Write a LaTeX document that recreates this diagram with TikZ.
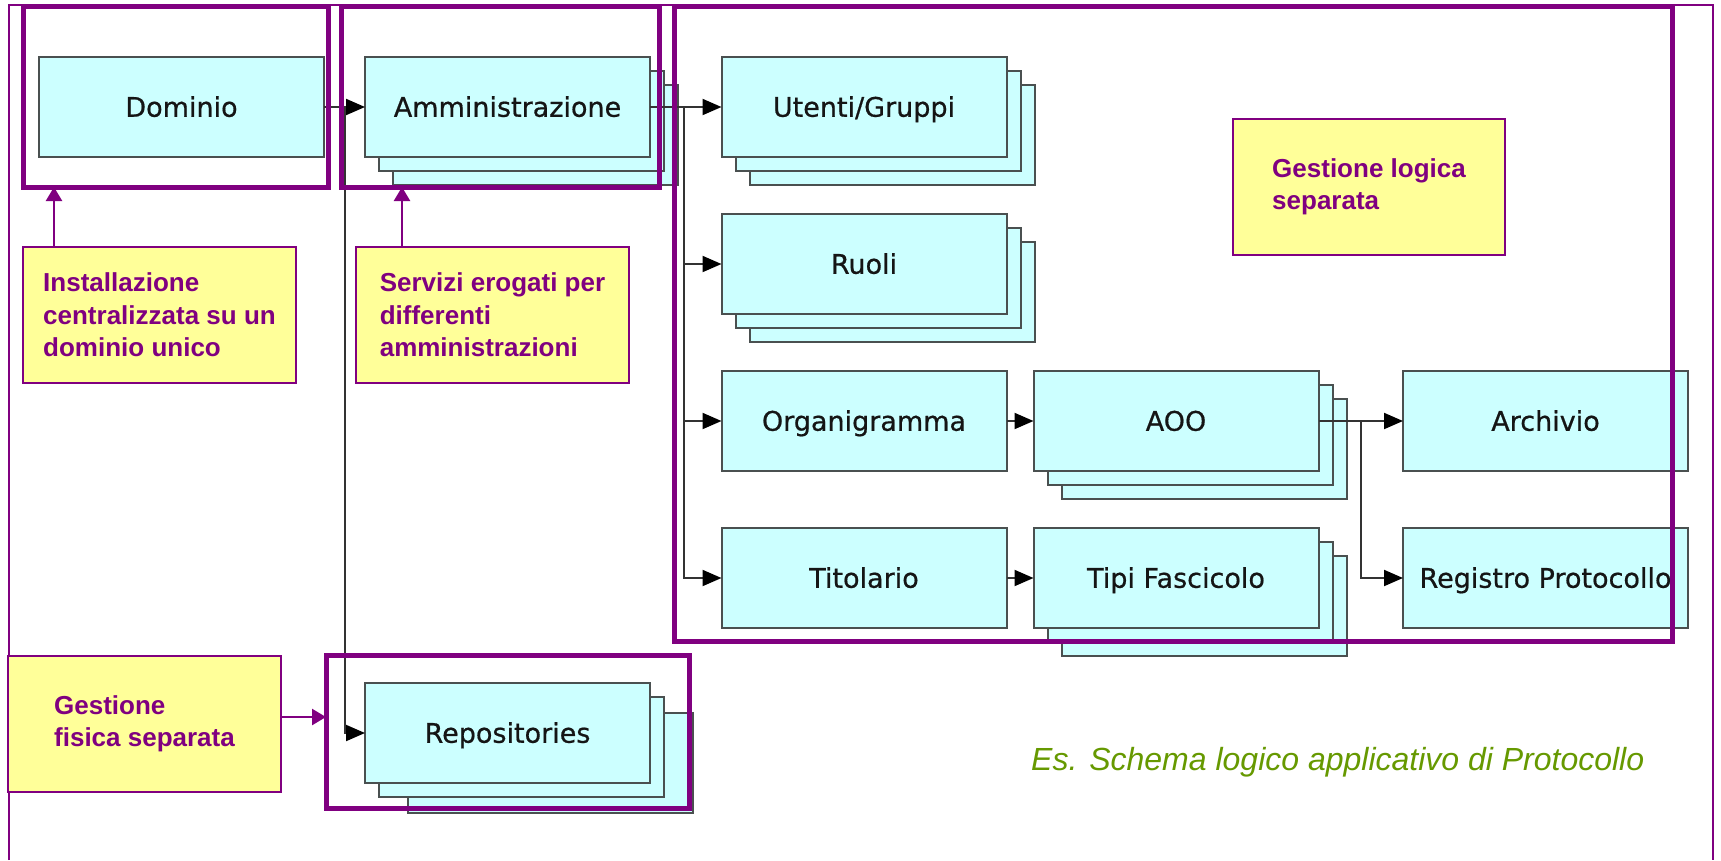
\documentclass[tikz,border=0pt]{standalone}
\usepackage{fontspec}
\setmainfont{Liberation Sans}
\newfontfamily\dvs[FakeBold=0.6]{DejaVu Sans}
\usetikzlibrary{arrows.meta}
\definecolor{pur}{HTML}{800080}
\definecolor{cyanfill}{HTML}{CCFFFF}
\definecolor{boxgray}{HTML}{4A5050}
\definecolor{yelfill}{HTML}{FFFF99}
\definecolor{conngray}{HTML}{333333}
\definecolor{txtdark}{HTML}{151515}
\definecolor{greentxt}{HTML}{669900}
\tikzset{
  cyanbox/.style={draw=boxgray, line width=2pt, fill=cyanfill, minimum width=285pt, minimum height=100pt, inner sep=0pt, outer sep=0pt, text=txtdark, text height=19.5pt, text depth=0pt, font=\dvs\fontsize{27}{31}\selectfont},
  yelbox/.style={draw=pur, line width=2pt, fill=yelfill, minimum width=273pt, minimum height=136pt, inner sep=0pt, outer sep=0pt, align=left, text=pur, font=\bfseries\fontsize{26}{32.5}\selectfont},
  frame/.style={draw=pur, line width=5pt, inner sep=0pt, outer sep=0pt},
  conn/.style={draw=conngray, line width=2pt, -{Triangle[length=19pt,width=16pt,color=black]}},
  connline/.style={draw=conngray, line width=2pt},
  parrow/.style={draw=pur, line width=2.5pt, -{Triangle[length=14pt,width=16pt]}}
}
\newcommand\boxlayers[5]{%
  \node[cyanbox] (#1-3) at (#2+#4,#3+#5) {};
  \node[cyanbox] (#1-2) at (#2+14,#3+14) {};
}
\begin{document}
\begin{tikzpicture}[x=1pt,y=-1pt]
\useasboundingbox (0,0) rectangle (1721,860);
\fill[white] (0,0) rectangle (1721,860);
% outer thin frame
\draw[pur, line width=2pt] (9,860) -- (9,5) -- (1713,5) -- (1713,860);

% cyan boxes
\node[cyanbox] (dom) at (181.5,107) {Dominio};
\boxlayers{amm}{507.5}{107}{28}{28}
\node[cyanbox] (amm) at (507.5,107) {Amministrazione};
\boxlayers{ute}{864}{107}{28}{28}
\node[cyanbox] (ute) at (864,107) {Utenti/Gruppi};
\boxlayers{ruo}{864}{264}{28}{28}
\node[cyanbox] (ruo) at (864,264) {Ruoli};
\node[cyanbox] (org) at (864,421) {Organigramma};
\boxlayers{aoo}{1176}{421}{28}{28}
\node[cyanbox] (aoo) at (1176,421) {AOO};
\node[cyanbox] (arc) at (1545.5,421) {Archivio};
\node[cyanbox] (tit) at (864,578) {Titolario};
\boxlayers{tip}{1176}{578}{28}{28}
\node[cyanbox] (tip) at (1176,578) {Tipi Fascicolo};
\node[cyanbox] (reg) at (1545.5,578) {Registro Protocollo};
\boxlayers{rep}{507.5}{733}{43}{30}
\node[cyanbox] (rep) at (507.5,733) {Repositories};

% connectors
\coordinate (j1) at (345,107);
\coordinate (j2) at (684,107);
\coordinate (j3) at (1361,421);
\draw[connline] (dom.east) -- (j1);
\draw[conn] (j1) -- (amm.west);
\draw[conn] (j1) |- (rep.west);
\draw[connline] (amm.east) -- (j2);
\draw[conn] (j2) -- (ute.west);
\draw[conn] (j2) |- (ruo.west);
\draw[conn] (j2) |- (org.west);
\draw[conn] (j2) |- (tit.west);
\draw[conn] (org.east) -- (aoo.west);
\draw[conn] (tit.east) -- (tip.west);
\draw[connline] (aoo.east) -- (j3);
\draw[conn] (j3) -- (arc.west);
\draw[conn] (j3) |- (reg.west);

% purple frames
\node[frame, minimum width=305pt, minimum height=181pt] (f1) at (175.5,96.5) {};
\node[frame, minimum width=318pt, minimum height=181pt] (f2) at (500,96.5) {};
\node[frame, minimum width=998pt, minimum height=635pt] (f3) at (1173,323.5) {};
\node[frame, minimum width=363pt, minimum height=153pt] (f4) at (507.5,731.5) {};

% yellow notes
\node[yelbox] (y1) at (159.5,315) {Installazione\\centralizzata su un\\dominio unico};
\node[yelbox] (y2) at (492.5,315) {Servizi erogati per\\differenti\\amministrazioni};
\node[yelbox, minimum width=272pt] (y3) at (1369,187) {Gestione logica\\separata};
\node[yelbox] (y4) at (144.5,724) {Gestione\\fisica separata};

\coordinate (a1) at (54,0);
\coordinate (a2) at (402,0);
\coordinate (a4) at (0,717);
\draw[parrow] (y1.north -| a1) -- (f1.south -| a1);
\draw[parrow] (y2.north -| a2) -- (f2.south -| a2);
\draw[parrow] (y4.east |- a4) -- (f4.west |- a4);

% caption
\node[anchor=base west, inner sep=0pt, text=greentxt, font=\itshape\fontsize{32}{38}\selectfont] (cap) at (1031,770) {Es. Schema logico applicativo di Protocollo};
\end{tikzpicture}
\end{document}
